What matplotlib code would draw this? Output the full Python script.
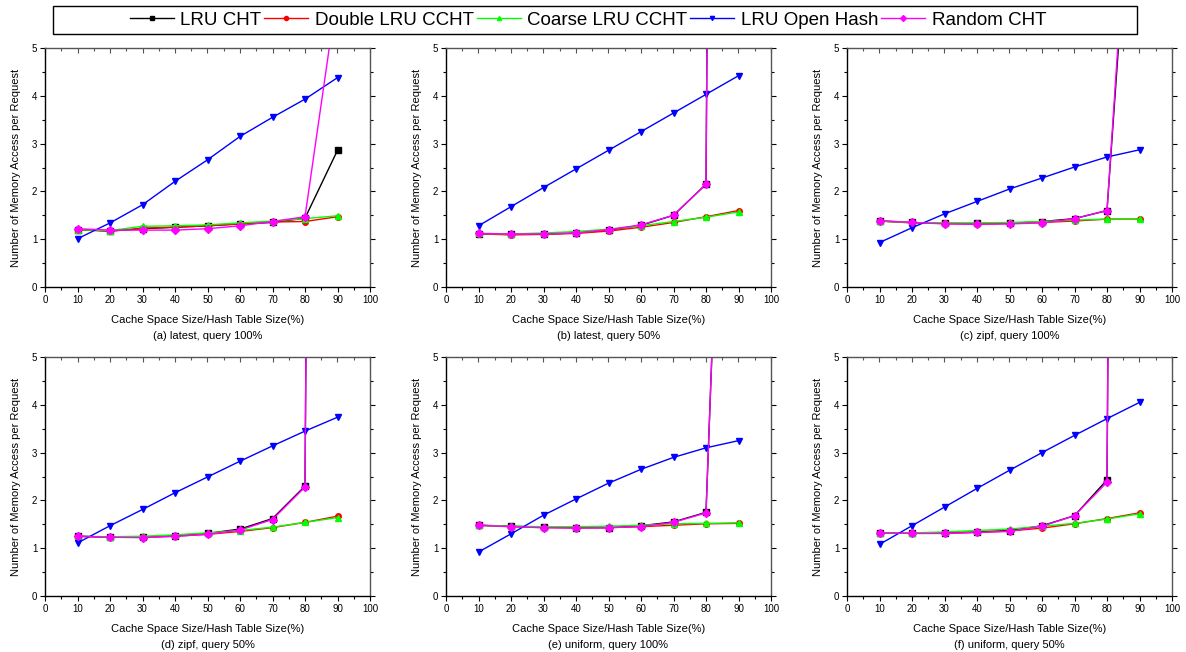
import matplotlib
matplotlib.use("Agg")
import matplotlib.pyplot as plt
from matplotlib.ticker import MultipleLocator
from matplotlib.patches import Rectangle

plt.rcParams['font.family'] = ['Liberation Sans', 'DejaVu Sans']

x_vals = [10, 20, 30, 40, 50, 60, 70, 80, 90]
series_names = ["LRU CHT", "Double LRU CCHT", "Coarse LRU CCHT", "LRU Open Hash", "Random CHT"]
captions = ["(a) latest, query 100%", "(b) latest, query 50%", "(c) zipf, query 100%",
            "(d) zipf, query 50%", "(e) uniform, query 100%", "(f) uniform, query 50%"]

# (a) latest, query 100%
a_lru_cht = [1.20, 1.17, 1.22, 1.25, 1.28, 1.32, 1.35, 1.44, 2.86]
a_double = [1.20, 1.17, 1.23, 1.25, 1.28, 1.32, 1.36, 1.37, 1.47]
a_coarse = [1.20, 1.18, 1.27, 1.28, 1.30, 1.34, 1.38, 1.43, 1.49]
a_open = [1.01, 1.34, 1.72, 2.21, 2.66, 3.15, 3.55, 3.93, 4.38]
a_random = [1.22, 1.19, 1.19, 1.19, 1.22, 1.28, 1.37, 1.47, 6.2]

# (b) latest, query 50%
b_lru_cht = [1.11, 1.10, 1.11, 1.13, 1.19, 1.29, 1.50, 2.15, 100.0]
b_double = [1.11, 1.09, 1.10, 1.12, 1.17, 1.25, 1.35, 1.47, 1.60]
b_coarse = [1.12, 1.11, 1.13, 1.16, 1.21, 1.28, 1.37, 1.46, 1.57]
b_open = [1.28, 1.68, 2.08, 2.47, 2.86, 3.25, 3.64, 4.03, 4.42]
b_random = [1.12, 1.11, 1.11, 1.13, 1.20, 1.30, 1.50, 2.15, 100.0]

# (c) zipf, query 100%
c_lru_cht = [1.38, 1.35, 1.33, 1.33, 1.33, 1.37, 1.43, 1.60, 11.3]
c_double = [1.38, 1.34, 1.33, 1.32, 1.33, 1.35, 1.38, 1.42, 1.42]
c_coarse = [1.38, 1.35, 1.34, 1.34, 1.35, 1.37, 1.40, 1.42, 1.42]
c_open = [0.93, 1.24, 1.53, 1.79, 2.05, 2.28, 2.51, 2.72, 2.87]
c_random = [1.39, 1.35, 1.32, 1.31, 1.32, 1.34, 1.43, 1.60, 11.9]

# (d) zipf, query 50%
d_lru_cht = [1.25, 1.23, 1.23, 1.26, 1.31, 1.40, 1.62, 2.30, 100.0]
d_double = [1.25, 1.23, 1.23, 1.25, 1.29, 1.35, 1.43, 1.54, 1.67]
d_coarse = [1.25, 1.24, 1.25, 1.28, 1.32, 1.37, 1.44, 1.54, 1.64]
d_open = [1.11, 1.47, 1.81, 2.16, 2.49, 2.82, 3.14, 3.45, 3.74]
d_random = [1.25, 1.23, 1.22, 1.25, 1.29, 1.38, 1.60, 2.28, 100.0]

# (e) uniform, query 100%
e_lru_cht = [1.48, 1.46, 1.44, 1.43, 1.43, 1.47, 1.55, 1.75, 20.0]
e_double = [1.48, 1.45, 1.43, 1.43, 1.43, 1.45, 1.48, 1.51, 1.52]
e_coarse = [1.48, 1.46, 1.45, 1.45, 1.46, 1.48, 1.51, 1.52, 1.53]
e_open = [0.92, 1.30, 1.69, 2.03, 2.36, 2.65, 2.90, 3.10, 3.25]
e_random = [1.48, 1.45, 1.43, 1.42, 1.43, 1.45, 1.54, 1.74, 20.0]

# (f) uniform, query 50%
f_lru_cht = [1.32, 1.31, 1.32, 1.34, 1.37, 1.47, 1.68, 2.43, 100.0]
f_double = [1.32, 1.31, 1.31, 1.33, 1.36, 1.42, 1.51, 1.62, 1.74]
f_coarse = [1.32, 1.32, 1.34, 1.37, 1.40, 1.46, 1.52, 1.61, 1.72]
f_open = [1.08, 1.47, 1.86, 2.25, 2.63, 3.00, 3.36, 3.71, 4.05]
f_random = [1.32, 1.31, 1.31, 1.33, 1.35, 1.46, 1.68, 2.38, 100.0]

panels = [
    [a_lru_cht, a_double, a_coarse, a_open, a_random],
    [b_lru_cht, b_double, b_coarse, b_open, b_random],
    [c_lru_cht, c_double, c_coarse, c_open, c_random],
    [d_lru_cht, d_double, d_coarse, d_open, d_random],
    [e_lru_cht, e_double, e_coarse, e_open, e_random],
    [f_lru_cht, f_double, f_coarse, f_open, f_random],
]

colors = ['#000000', '#FF0000', '#00FF00', '#0000FF', '#FF00FF']
markers = ['s', 'o', '^', 'v', 'D']
msizes = [4, 4, 4.5, 5, 4.5]

W, H = 1186, 652
fig = plt.figure(figsize=(W / 100, H / 100), dpi=100)

lefts = [45, 446, 847]
tops = [48, 357]
aw, ah = 325, 239

handles = None
for i, data in enumerate(panels):
    r, c = divmod(i, 3)
    l = lefts[c]
    t = tops[r]
    ax = fig.add_axes([l / W, (H - t - ah) / H, aw / W, ah / H])
    hs = []
    for k, ys in enumerate(data):
        h, = ax.plot(x_vals, ys, color=colors[k], marker=markers[k], ms=msizes[k],
                     lw=1.0, label=series_names[k])
        hs.append(h)
    handles = hs
    ax.set_xlim(0, 100)
    ax.set_ylim(0, 5)
    ax.xaxis.set_major_locator(MultipleLocator(10))
    ax.xaxis.set_minor_locator(MultipleLocator(5))
    ax.yaxis.set_major_locator(MultipleLocator(1))
    ax.yaxis.set_minor_locator(MultipleLocator(0.5))
    ax.tick_params(which='both', direction='out', top=False, right=True, labelsize=7, pad=2)
    ax.tick_params(which='major', length=3.5, width=0.8)
    ax.tick_params(which='minor', length=2, width=0.8)
    sec = ax.secondary_xaxis('top')
    sec.xaxis.set_major_locator(MultipleLocator(10))
    sec.xaxis.set_minor_locator(MultipleLocator(5))
    sec.tick_params(which='both', direction='in', labeltop=False, width=0.8, color='#555555')
    sec.tick_params(which='major', length=3.5)
    sec.tick_params(which='minor', length=2)
    sec.spines['top'].set_visible(False)
    for s in ax.spines.values():
        s.set_linewidth(1.0)
    for s in ['top', 'right']:
        ax.spines[s].set_color('#555555')
    ax.set_xlabel("Cache Space Size/Hash Table Size(%)", fontsize=8)
    ax.xaxis.set_label_coords(0.5, -0.118)
    ax.set_ylabel("Number of Memory Access per Request", fontsize=8)
    ax.yaxis.set_label_coords(-0.075, 0.5)
    ax.text(0.5, -0.185, captions[i], transform=ax.transAxes, ha='center', va='top', fontsize=8)

leg = fig.legend(handles, series_names, loc='center', ncol=5,
                 bbox_to_anchor=(588 / W, 1 - 20 / H), fontsize=13.5,
                 frameon=False, handlelength=2.35, handletextpad=0.35,
                 columnspacing=0.15, borderpad=0.25, borderaxespad=0)
for lh in leg.legend_handles:
    lh.set_markersize(3)

fig.patches.append(Rectangle((53 / W, 1 - 34 / H), (1137 - 53) / W, 28 / H,
                             transform=fig.transFigure, fill=False,
                             edgecolor='black', linewidth=1.0))

fig.savefig("out.png", dpi=100, facecolor='white')
